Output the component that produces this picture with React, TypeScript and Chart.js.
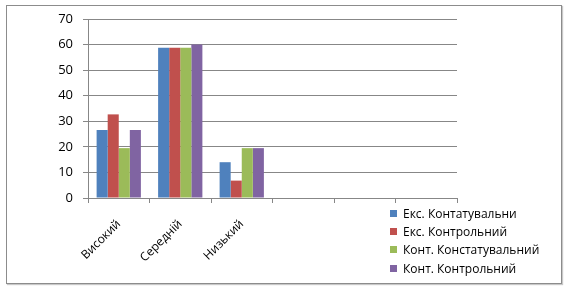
import React, { useEffect, useRef } from "react";
import { Chart, registerables } from "chart.js";

Chart.register(...registerables);

const categories = ["Високий", "Середній", "Низький", "", "", ""];
const seriesNames = [
  "Екс. Контатувальни",
  "Екс. Контрольний",
  "Конт. Констатувальний",
  "Конт. Контрольний",
];
const seriesColors = ["#4F81BD", "#C0504D", "#9BBB59", "#8064A2"];
const eksKonstat = [26.6, 58.8, 14.0, null, null, null];
const eksKontrol = [32.7, 58.8, 6.8, null, null, null];
const kontKonstat = [19.5, 58.8, 19.5, null, null, null];
const kontKontrol = [26.6, 60.0, 19.5, null, null, null];
const yTicks = [0, 10, 20, 30, 40, 50, 60, 70];

const seriesValues = [eksKonstat, eksKontrol, kontKonstat, kontKontrol];
const FONT = "'Open Sans', 'DejaVu Sans', sans-serif";

export default function App() {
  const canvasRef = useRef<HTMLCanvasElement | null>(null);

  useEffect(() => {
    document.body.style.margin = "0";
    const canvas = canvasRef.current;
    if (!canvas) return;
    const chart = new Chart(canvas, {
      type: "bar",
      data: {
        labels: categories,
        datasets: seriesNames.map((name, i) => ({
          label: name,
          data: seriesValues[i],
          backgroundColor: seriesColors[i],
          borderWidth: 0,
          barPercentage: 1,
          categoryPercentage: 0.72,
        })),
      },
      options: {
        responsive: false,
        animation: false,
        events: [],
        layout: { padding: { left: 0, top: 19, right: 111, bottom: 0 } },
        plugins: {
          legend: { display: false },
          tooltip: { enabled: false },
        },
        scales: {
          x: {
            grid: {
              display: true,
              drawOnChartArea: false,
              drawTicks: true,
              tickLength: 5,
              color: "#878787",
              offset: true,
            },
            border: { display: true, color: "#878787", width: 1 },
            ticks: {
              color: "#000",
              font: { family: FONT, size: 12 },
              minRotation: 45,
              maxRotation: 45,
              padding: 14,
              autoSkip: false,
            },
            afterFit: (scale: any) => {
              scale.height = 92;
            },
          },
          y: {
            min: 0,
            max: 70,
            afterBuildTicks: (scale: any) => {
              scale.ticks = yTicks.map((v) => ({ value: v }));
            },
            grid: {
              color: "#878787",
              tickLength: 5,
              drawTicks: true,
            },
            border: { display: true, color: "#878787", width: 1 },
            ticks: {
              color: "#000",
              font: { family: FONT, size: 13 },
              padding: 10,
            },
            afterFit: (scale: any) => {
              scale.width = 88;
            },
          },
        },
      },
    });
    return () => chart.destroy();
  }, []);

  return (
    <div style={{ position: "relative", width: 568, height: 290 }}>
      <canvas ref={canvasRef} width={568} height={290} style={{ position: "absolute", left: 0, top: 0 }} />
      <div
        style={{
          position: "absolute",
          left: 6,
          top: 5,
          width: 554,
          height: 277,
          border: "1px solid #8c8c8c",
          boxShadow: "1px 1px 1px #c8c8c8",
          pointerEvents: "none",
        }}
      />
      <div
        style={{
          position: "absolute",
          left: 390,
          top: 204,
          fontFamily: FONT,
          fontSize: 12,
          color: "#000",
        }}
      >
        {seriesNames.map((name, i) => (
          <div key={name} style={{ display: "flex", alignItems: "center", height: 18.4, whiteSpace: "nowrap" }}>
            <span style={{ display: "inline-block", width: 7, height: 7, background: seriesColors[i], marginRight: 6 }} />
            <span>{name}</span>
          </div>
        ))}
      </div>
    </div>
  );
}
